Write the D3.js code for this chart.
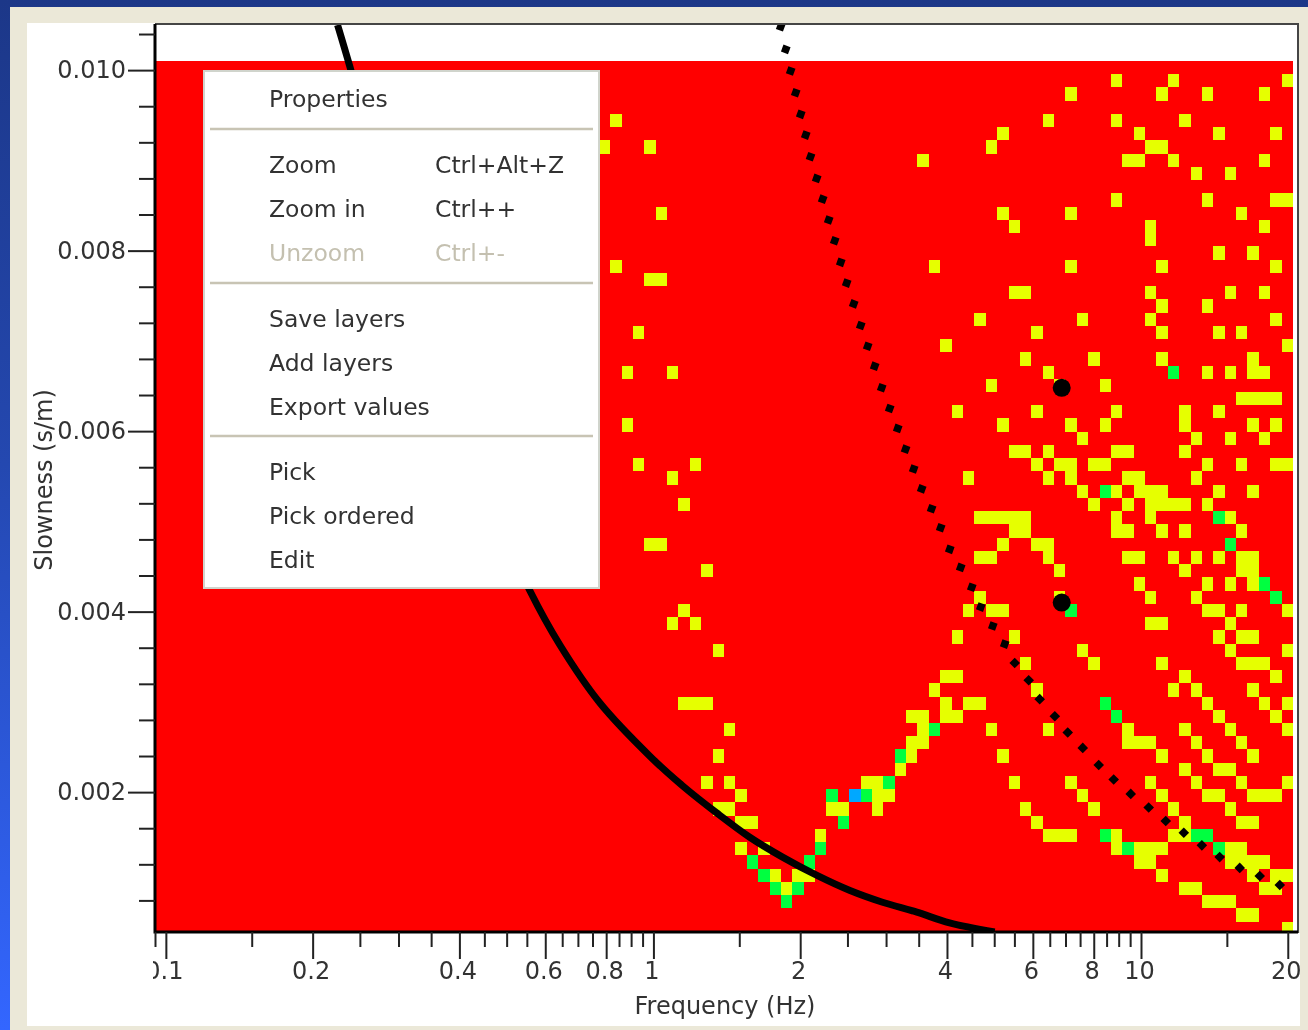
<!DOCTYPE html>
<html><head><meta charset="utf-8"/>
<title>Slowness vs frequency</title>
<script src="https://d3js.org/d3.v7.min.js"></script>
<style>
    html, body { margin: 0; padding: 0; background: #1f3a90; }
    svg { display: block; }
    text { font-family: 'DejaVu Sans', sans-serif; fill: #333; }
</style>
</head>
<body>
<div id="chart"></div>
<script>
// picked cells of the grid, [column, row] counted from the low frequency / top slowness corner
const yellowCells = [
    [84,1],[89,1],[99,1],
    [80,2],[88,2],[92,2],[97,2],
    [40,4],[78,4],[84,4],[90,4],
    [74,5],[86,5],[93,5],[98,5],
    [39,6],[43,6],[73,6],[87,6],[88,6],
    [67,7],[85,7],[86,7],[89,7],[97,7],
    [91,8],[94,8],
    [84,10],[92,10],[98,10],[99,10],
    [44,11],[74,11],[80,11],[95,11],
    [75,12],[87,12],[97,12],
    [87,13],
    [93,14],[96,14],
    [40,15],[68,15],[80,15],[88,15],[98,15],
    [43,16],[44,16],
    [75,17],[76,17],[87,17],[94,17],[97,17],
    [88,18],[92,18],
    [72,19],[81,19],[87,19],[98,19],
    [42,20],[77,20],[88,20],[93,20],[95,20],
    [69,21],[99,21],
    [76,22],[82,22],[88,22],[96,22],
    [41,23],[45,23],[78,23],[92,23],[94,23],[96,23],[97,23],
    [73,24],[79,24],[83,24],
    [95,25],[96,25],[97,25],[98,25],
    [70,26],[77,26],[84,26],[90,26],[93,26],
    [41,27],[74,27],[80,27],[83,27],[90,27],[96,27],[98,27],
    [81,28],[91,28],[94,28],[97,28],
    [75,29],[76,29],[78,29],[84,29],[85,29],[90,29],
    [42,30],[47,30],[77,30],[79,30],[80,30],[82,30],[83,30],[92,30],[95,30],[98,30],[99,30],
    [45,31],[71,31],[78,31],[80,31],[85,31],[86,31],[91,31],
    [81,32],[84,32],[86,32],[87,32],[88,32],[93,32],[96,32],
    [46,33],[82,33],[85,33],[87,33],[88,33],[89,33],[90,33],[92,33],
    [72,34],[73,34],[74,34],[75,34],[76,34],[84,34],[87,34],[94,34],
    [75,35],[76,35],[84,35],[85,35],[88,35],[90,35],[95,35],
    [43,36],[44,36],[74,36],[77,36],[78,36],
    [72,37],[73,37],[78,37],[85,37],[86,37],[89,37],[91,37],[93,37],[95,37],[96,37],
    [48,38],[79,38],[90,38],[95,38],[96,38],
    [86,39],[92,39],[94,39],[96,39],
    [72,40],[79,40],[87,40],[91,40],
    [46,41],[71,41],[73,41],[74,41],[92,41],[93,41],[95,41],[99,41],
    [45,42],[47,42],[87,42],[88,42],[94,42],
    [70,43],[75,43],[93,43],[95,43],[96,43],
    [49,44],[81,44],[94,44],[99,44],
    [76,45],[82,45],[88,45],[95,45],[96,45],[97,45],
    [69,46],[70,46],[90,46],[98,46],
    [68,47],[77,47],[89,47],[91,47],[96,47],
    [46,48],[47,48],[48,48],[69,48],[71,48],[72,48],[92,48],[97,48],[99,48],
    [66,49],[67,49],[69,49],[70,49],[93,49],[98,49],
    [50,50],[67,50],[73,50],[78,50],[85,50],[90,50],[94,50],[99,50],
    [66,51],[67,51],[85,51],[86,51],[87,51],[91,51],[95,51],
    [49,52],[66,52],[74,52],[88,52],[92,52],[96,52],
    [65,53],[90,53],[93,53],[94,53],
    [48,54],[50,54],[62,54],[63,54],[75,54],[80,54],[87,54],[91,54],[95,54],[99,54],
    [51,55],[63,55],[64,55],[81,55],[88,55],[92,55],[93,55],[96,55],[97,55],[98,55],
    [49,56],[50,56],[59,56],[60,56],[63,56],[76,56],[82,56],[89,56],[94,56],
    [51,57],[52,57],[77,57],[90,57],[95,57],[96,57],
    [58,58],[78,58],[79,58],[80,58],[84,58],[89,58],[90,58],
    [51,59],[53,59],[84,59],[86,59],[87,59],[88,59],[94,59],[95,59],
    [86,60],[87,60],[94,60],[95,60],[96,60],[97,60],
    [54,61],[56,61],[57,61],[88,61],[96,61],[98,61],[99,61],
    [55,62],[90,62],[91,62],[97,62],[98,62],
    [92,63],[93,63],[94,63],
    [95,64],[96,64],
    [99,65]
];
const greenCells = [
    [89,23],[83,32],[93,34],[94,36],[97,39],[98,40],[80,41],[83,48],[84,49],[68,50],
    [65,52],[64,54],[59,55],[62,55],[60,57],[83,58],[91,58],[92,58],[58,59],[85,59],
    [93,59],[52,60],[57,60],[53,61],[54,62],[56,62],[55,63]
];
const blueCells = [[61,55]];

// thick black curve, frequency (Hz) and slowness (s/m)
const curveFreq = [0.225,0.239,0.30,0.40,0.50,0.557,0.643,0.776,0.987,1.148,1.348,1.576,1.84,2.16,2.53,2.95,3.47,4.05,5.01];
const curveSlow = [0.0105,0.01002,0.0081,0.0061,0.0048,0.00424,0.00363,0.00299,0.00239,0.00207,0.00177,0.0015,0.00128,0.00108,0.00091,0.00078,0.00067,0.00055,0.00045];

// dotted black curve
const dotFreq = [1.824,1.868,1.912,1.958,2.005,2.053,2.10,2.162,2.224,2.288,2.354,2.422,2.491,2.575,2.662,2.751,2.843,2.939,3.052,3.17,3.29,3.418,3.55,3.72,3.883,4.053,4.268,4.497,4.692,4.966,5.254,5.508,5.884,6.198,6.656,7.075,7.595,8.19,8.79,9.527,10.37,11.24,12.24,13.33,14.5,15.94,17.52,19.26];
const dotSlow = [0.01048,0.01023,0.00999,0.00975,0.00951,0.00928,0.00904,0.0088,0.00857,0.00834,0.00811,0.00787,0.00764,0.00741,0.00717,0.00694,0.00672,0.00648,0.00625,0.00603,0.0058,0.00558,0.00536,0.00514,0.00493,0.00469,0.00449,0.00427,0.00405,0.00384,0.00364,0.00343,0.00324,0.00303,0.00284,0.00266,0.00249,0.0023,0.00214,0.00198,0.00183,0.00168,0.00155,0.00141,0.00128,0.00116,0.00107,0.00097];

// the two big picked points
const pickFreq = [6.877,6.877];
const pickSlow = [0.00648,0.0041];

// axes
const xMajorTicks = [0.1,0.2,0.4,0.6,0.8,1,2,4,6,8,10,20];
const xMinorTicks = [0.095,0.15,0.25,0.3,0.35,0.45,0.5,0.55,0.65,0.7,0.75,0.85,0.9,0.95,1.5,2.5,3,3.5,4.5,5,5.5,6.5,7,7.5,8.5,9,9.5,15];
const yMajorTicks = [0.002,0.004,0.006,0.008,0.010];
const yMinorTicks = [0.0008,0.0012,0.0016,0.0024,0.0028,0.0032,0.0036,0.0044,0.0048,0.0052,0.0056,0.0064,0.0068,0.0072,0.0076,0.0084,0.0088,0.0092,0.0096,0.0104];

// the popup menu sitting on top of the plot
const menuLabels = ["Properties","Zoom","Zoom in","Unzoom","Save layers","Add layers","Export values","Pick","Pick ordered","Edit"];
const menuShortcuts = ["","Ctrl+Alt+Z","Ctrl++","Ctrl+-","","","","","",""];
const menuDisabled = ["Unzoom"];

const W = 1308, H = 1030;
const plotL = 155, plotR = 1293, plotT = 25, plotB = 932;
const gridTop = 61, rowCount = 66, colCount = 100, rowStep = 13.24;

const x = d3.scaleLog().domain([0.095, 20.5]).range([plotL, plotR]);
const y = d3.scaleLinear().domain([0.00045, 0.0105]).range([plotB, plotT]);
const col = d3.scaleBand().domain(d3.range(colCount)).range([plotL, plotR]);
const row = d3.scaleBand().domain(d3.range(rowCount)).range([gridTop, gridTop + rowCount * rowStep]);

const svg = d3.select("#chart").append("svg").attr("width", W).attr("height", H);
const defs = svg.append("defs");

const bg = defs.append("linearGradient").attr("id", "bg").attr("x1", 0).attr("y1", 0).attr("x2", 0).attr("y2", 1);
bg.append("stop").attr("offset", "0%").attr("stop-color", "#1c3788");
bg.append("stop").attr("offset", "45%").attr("stop-color", "#2448b0");
bg.append("stop").attr("offset", "100%").attr("stop-color", "#3366ff");
defs.append("clipPath").attr("id", "plotClip").append("rect")
    .attr("x", plotL).attr("y", plotT).attr("width", plotR - plotL).attr("height", plotB - plotT);
defs.append("clipPath").attr("id", "tickClip").append("rect")
    .attr("x", 153).attr("y", 930).attr("width", 1147).attr("height", 70);
defs.append("filter").attr("id", "soft").append("feGaussianBlur").attr("stdDeviation", 0.65);

// window chrome
svg.append("rect").attr("width", W).attr("height", H).attr("fill", "url(#bg)");
svg.append("rect").attr("x", 10).attr("y", 7).attr("width", W - 10).attr("height", H - 7).attr("fill", "#ebe8d8");
svg.append("rect").attr("x", 27).attr("y", 23).attr("width", 1273).attr("height", 1003).attr("fill", "#fff");
svg.append("rect").attr("x", 1299).attr("y", 23).attr("width", 1).attr("height", 910).attr("fill", "#ebe8d8");

const chart = svg.append("g").attr("filter", "url(#soft)");

// heat map
const plot = chart.append("g").attr("clip-path", "url(#plotClip)");
plot.append("rect").attr("x", plotL).attr("y", gridTop).attr("width", plotR - plotL).attr("height", plotB - gridTop).attr("fill", "#ff0000");
const drawCells = (cells, color) => plot.append("g").selectAll("rect").data(cells).join("rect")
    .attr("x", d => Math.round(col(d[0])))
    .attr("y", d => Math.round(row(d[1])))
    .attr("width", d => Math.round(col(d[0]) + col.step()) - Math.round(col(d[0])))
    .attr("height", d => Math.round(row(d[1]) + row.step()) - Math.round(row(d[1])))
    .attr("fill", color);
drawCells(yellowCells, "#e6ff00");
drawCells(greenCells, "#00ff40");
drawCells(blueCells, "#00a8ff");

// curves
plot.append("path")
    .datum(d3.zip(curveFreq, curveSlow))
    .attr("d", d3.line().x(d => x(d[0])).y(d => y(d[1])).curve(d3.curveCatmullRom))
    .attr("fill", "none").attr("stroke", "#000").attr("stroke-width", 7);
plot.append("g").selectAll("rect").data(d3.zip(dotFreq, dotSlow)).join("rect")
    .attr("x", -3.75).attr("y", -3.75).attr("width", 7.5).attr("height", 7.5)
    .attr("transform", (d, i) => `translate(${x(d[0])},${y(d[1])}) rotate(${i > 30 ? 45 : 20})`)
    .attr("fill", "#000");
plot.append("g").selectAll("circle").data(d3.zip(pickFreq, pickSlow)).join("circle")
    .attr("cx", d => x(d[0])).attr("cy", d => y(d[1])).attr("r", 9).attr("fill", "#000");

// frame
chart.append("path")
    .attr("d", `M${plotL},${plotT - 1}H1298V${plotB + 1}`).attr("stroke", "#444").attr("stroke-width", 2).attr("fill", "none");
chart.append("path")
    .attr("d", `M${plotL},${plotT - 1}V${plotB}H1298`).attr("stroke", "#000").attr("stroke-width", 3).attr("fill", "none");

// x axis, the wrapper clips the labels at the panel edges like the original does
const xMajor = d3.axisBottom(x).tickValues(xMajorTicks).tickSize(27).tickPadding(3).tickFormat(d3.format("~g"));
const xMinor = d3.axisBottom(x).tickValues(xMinorTicks).tickSize(15).tickFormat("");
const xWrap = chart.append("g").attr("clip-path", "url(#tickClip)");
const xG = xWrap.append("g").attr("transform", `translate(0,${plotB})`);
xG.append("g").call(xMinor).call(g => g.select(".domain").remove());
xG.append("g").call(xMajor).call(g => g.select(".domain").remove());
xG.selectAll("line").attr("stroke", "#222").attr("stroke-width", 2);
xG.selectAll("text").attr("font-size", 24).attr("fill", "#333").attr("font-family", "'DejaVu Sans', sans-serif").attr("dx", -2);

// y axis
const yMajor = d3.axisLeft(y).tickValues(yMajorTicks).tickSize(27).tickPadding(2).tickFormat(d3.format(".3f"));
const yMinor = d3.axisLeft(y).tickValues(yMinorTicks).tickSize(16).tickFormat("");
const yG = chart.append("g").attr("transform", `translate(${plotL},0)`);
yG.append("g").call(yMinor).call(g => g.select(".domain").remove());
yG.append("g").call(yMajor).call(g => g.select(".domain").remove());
yG.selectAll("line").attr("stroke", "#222").attr("stroke-width", 2);
yG.selectAll("text").attr("font-size", 24).attr("fill", "#333").attr("font-family", "'DejaVu Sans', sans-serif");

// axis titles
chart.append("text").attr("x", 725).attr("y", 1007).attr("text-anchor", "middle")
    .attr("dominant-baseline", "middle").attr("font-size", 24).text("Frequency (Hz)");
chart.append("text").attr("transform", "translate(45,480) rotate(-90)").attr("text-anchor", "middle")
    .attr("dominant-baseline", "middle").attr("font-size", 24).text("Slowness (s/m)");

// popup menu
const menu = chart.append("g");
menu.append("rect").attr("x", 204).attr("y", 71).attr("width", 395).attr("height", 517)
    .attr("fill", "#fff").attr("stroke", "#d0d4cc").attr("stroke-width", 2);
const menuRowY = [100,166,210,254,320,364,408,473,517,561];
menu.append("g").selectAll("text").data(menuLabels).join("text")
    .attr("x", 269).attr("y", (d, i) => menuRowY[i]).attr("dominant-baseline", "middle")
    .attr("font-size", 23.5)
    .attr("style", d => menuDisabled.includes(d) ? "fill:#c4c0b0" : "fill:#333")
    .text(d => d);
menu.append("g").selectAll("text").data(menuShortcuts).join("text")
    .attr("x", 435).attr("y", (d, i) => menuRowY[i]).attr("dominant-baseline", "middle")
    .attr("font-size", 23.5)
    .attr("style", (d, i) => menuDisabled.includes(menuLabels[i]) ? "fill:#c4c0b0" : "fill:#333")
    .text(d => d);
menu.append("g").selectAll("line").data([129,283,436]).join("line")
    .attr("x1", 210).attr("x2", 593).attr("y1", d => d).attr("y2", d => d)
    .attr("stroke", "#c8c4b4").attr("stroke-width", 2.5);
</script>
</body></html>
